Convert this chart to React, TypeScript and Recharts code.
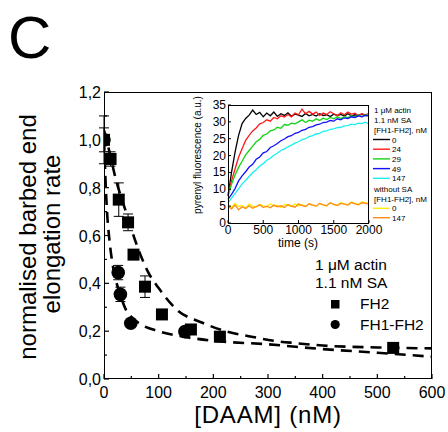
import React from 'react'
import { ComposedChart, LineChart, Line, Scatter, ErrorBar, XAxis, YAxis } from 'recharts'

const FONT = '"Liberation Sans", Arial, sans-serif'

// main panel: [DAAM] (nM) vs normalised rate
const daamTicks = [0, 50, 100, 150, 200, 250, 300, 350, 400, 450, 500, 550, 600]
const rateTicks = [0, 0.1, 0.2, 0.3, 0.4, 0.5, 0.6, 0.7, 0.8, 0.9, 1.0, 1.1, 1.2]

const fh2Conc = [0, 12, 27, 44, 54, 75, 106, 159, 212, 529]
const fh2Rate = [1.0, 0.92, 0.75, 0.655, 0.52, 0.386, 0.27, 0.207, 0.177, 0.13]
const fh2Err = [0.1, 0.03, 0.07, 0.035, 0.02, 0.045, 0.01, 0.01, 0.01, 0.01]

const fh1Conc = [0, 26, 30, 49, 148]
const fh1Rate = [1.0, 0.445, 0.354, 0.233, 0.198]
const fh1Err = [0.05, 0.03, 0.03, 0.01, 0.01]

// dashed fits
const fh2FitConc = [0, 10, 20, 40, 60, 80, 100, 133, 180, 225, 270, 310, 350, 400, 500, 600]
const fh2FitRate = [1.04, 0.95, 0.85, 0.7, 0.56, 0.45, 0.38, 0.29, 0.235, 0.198, 0.177, 0.16, 0.15, 0.14, 0.132, 0.128]
const fh1FitConc = [0, 5, 10, 15, 20, 30, 40, 50, 70, 100, 150, 200, 300, 400, 500, 600]
const fh1FitRate = [1.0, 0.72, 0.58, 0.49, 0.43, 0.35, 0.29, 0.26, 0.225, 0.2, 0.175, 0.16, 0.145, 0.125, 0.11, 0.093]

// inset: pyrenyl fluorescence traces, one value every 50 s
const timeS = [0, 50, 100, 150, 200, 250, 300, 350, 400, 450, 500, 550, 600, 650, 700, 750, 800, 850, 900, 950, 1000, 1050, 1100, 1150, 1200, 1250, 1300, 1350, 1400, 1450, 1500, 1550, 1600, 1650, 1700, 1750, 1800, 1850, 1900, 1950, 2000]
const sa0 = [8, 15, 21, 26, 29.5, 31, 32, 33.5, 32.2, 32.8, 31.5, 32.6, 31.8, 32.9, 31.6, 32.4, 31.9, 32.7, 31.7, 32.3, 32.0, 31.6, 32.5, 31.8, 32.2, 31.7, 32.4, 31.9, 32.1, 31.6, 32.3, 31.9, 32.2, 31.7, 32.4, 31.8, 32.1, 31.9, 32.3, 31.8, 32.0]
const sa24 = [8.5, 12.5, 16, 19.5, 22, 24.5, 26, 27.3, 28.2, 29.4, 29.8, 30.6, 30.2, 31.3, 30.9, 31.8, 31.4, 32.2, 31.5, 32.6, 32.1, 33.8, 32.4, 33.1, 32.3, 32.9, 31.9, 32.6, 32.2, 33.0, 32.4, 31.8, 32.7, 32.1, 32.9, 32.3, 32.6, 31.9, 32.4, 32.1, 32.5]
const sa29 = [8, 11.5, 14.2, 16.5, 18.3, 20.2, 21.5, 22.8, 24.1, 24.8, 26, 26.4, 27.3, 27.6, 28.4, 28.1, 29.2, 29.0, 29.6, 29.4, 30.0, 30.6, 29.8, 30.5, 30.2, 30.9, 30.4, 31.1, 30.7, 31.3, 30.9, 31.5, 31.0, 31.6, 31.2, 31.8, 31.4, 32.0, 31.6, 32.1, 31.8]
const sa49 = [7, 8.5, 10.2, 12.5, 14, 15.2, 16.6, 17.4, 18.9, 19.6, 20.8, 21.2, 22.4, 22.9, 23.6, 24.4, 24.9, 25.6, 25.9, 26.6, 26.9, 27.5, 27.8, 28.4, 28.6, 29.1, 29.3, 29.8, 29.9, 30.4, 30.2, 30.9, 30.6, 31.2, 31.0, 31.5, 31.3, 31.8, 31.5, 32.0, 31.7]
const sa147 = [6, 7.4, 8.8, 10.1, 11.6, 12.6, 13.8, 14.9, 15.8, 16.9, 17.6, 18.6, 19.2, 20.1, 20.7, 21.5, 22.0, 22.6, 23.1, 23.7, 24.1, 24.7, 25.0, 25.6, 25.9, 26.4, 26.6, 27.2, 27.3, 27.8, 27.9, 28.3, 28.4, 28.8, 28.9, 29.3, 29.2, 29.6, 29.5, 29.9, 29.4]
const noSa0 = [5.4, 4.6, 5.8, 4.9, 5.2, 4.4, 5.6, 5.0, 4.7, 5.5, 5.1, 4.8, 5.7, 5.0, 5.3, 4.6, 5.5, 5.2, 4.9, 5.6, 5.1, 5.4, 4.8, 5.7, 5.3, 5.0, 5.8, 5.4, 5.1, 6.0, 5.5, 5.2, 6.1, 5.7, 5.4, 6.2, 5.8, 5.5, 6.3, 5.9, 6.1]
const noSa147 = [5.0, 4.2, 5.3, 3.9, 4.8, 4.3, 5.1, 4.4, 4.9, 5.4, 4.6, 5.0, 4.5, 5.3, 4.8, 5.1, 4.6, 5.5, 5.0, 4.7, 5.6, 5.2, 4.9, 5.7, 5.3, 5.0, 5.8, 5.4, 5.1, 6.0, 5.5, 5.2, 5.8, 5.6, 5.3, 6.1, 5.7, 5.4, 6.0, 5.8, 5.6]
const timeTicks = [0, 500, 1000, 1500, 2000]
const fluoTicks = [0, 5, 10, 15, 20, 25, 30, 35]

const traces = [
  { key: 'c0', label: '0', color: '#000000', values: sa0 },
  { key: 'c24', label: '24', color: '#ff1a1a', values: sa24 },
  { key: 'c29', label: '29', color: '#14d414', values: sa29 },
  { key: 'c49', label: '49', color: '#1010ff', values: sa49 },
  { key: 'c147', label: '147', color: '#18f0f0', values: sa147 },
  { key: 'n0', label: '0', color: '#ffee00', values: noSa0 },
  { key: 'n147', label: '147', color: '#ff8c1a', values: noSa147 },
]

const fh2Points = fh2Conc.map((x, i) => ({ x, y: fh2Rate[i], err: fh2Err[i] }))
const fh1Points = fh1Conc.map((x, i) => ({ x, y: fh1Rate[i], err: fh1Err[i] }))
const fh2Fit = fh2FitConc.map((x, i) => ({ x, y: fh2FitRate[i] }))
const fh1Fit = fh1FitConc.map((x, i) => ({ x, y: fh1FitRate[i] }))
const insetRows = timeS.map((t, i) => {
  const row: Record<string, number> = { t }
  traces.forEach((tr) => { row[tr.key] = tr.values[i] })
  return row
})

const MainXTick = (props: any) => {
  const { x, y, payload } = props
  const major = payload.value % 100 === 0
  return (
    <g>
      <line x1={x} y1={y} x2={x} y2={y - (major ? 5 : 3)} stroke="#000" strokeWidth={1.2} />
      {major && (
        <text x={x} y={y + 18.5} textAnchor="middle" fontSize={16} fontFamily={FONT} fill="#000">
          {payload.value}
        </text>
      )}
    </g>
  )
}

const MainYTick = (props: any) => {
  const { x, y, payload } = props
  const major = Math.round(payload.value * 10) % 2 === 0
  return (
    <g>
      <line x1={x} y1={y} x2={x + (major ? 5 : 3)} y2={y} stroke="#000" strokeWidth={1.2} />
      {major && (
        <text x={x - 3} y={y + 6} textAnchor="end" fontSize={16} fontFamily={FONT} fill="#000">
          {payload.value.toFixed(1).replace('.', ',')}
        </text>
      )}
    </g>
  )
}

const InsetXTick = (props: any) => {
  const { x, y, payload } = props
  return (
    <g>
      <line x1={x} y1={y} x2={x} y2={y - 3} stroke="#000" strokeWidth={1} />
      <text x={x} y={y + 11} textAnchor="middle" fontSize={12} fontFamily={FONT} fill="#000">
        {String(payload.value)}
      </text>
    </g>
  )
}

const InsetYTick = (props: any) => {
  const { x, y, payload } = props
  return (
    <g>
      <line x1={x} y1={y} x2={x + 3} y2={y} stroke="#000" strokeWidth={1} />
      <text x={x - 2} y={y + 4} textAnchor="end" fontSize={12} fontFamily={FONT} fill="#000">
        {String(payload.value)}
      </text>
    </g>
  )
}

const SquareDot = (props: any) => (
  <rect x={props.cx - 6} y={props.cy - 6} width={12} height={12} fill="#000" />
)
const CircleDot = (props: any) => <circle cx={props.cx} cy={props.cy} r={6.8} fill="#000" />

export default function App() {
  return (
    <div style={{ position: 'absolute', left: 0, top: 0, width: 448, height: 432, background: '#fff', fontFamily: FONT }}>
      <ComposedChart width={448} height={432} margin={{ top: 92, right: 16, bottom: 0, left: 0 }}>
        <XAxis
          type="number"
          dataKey="x"
          domain={[0, 600]}
          ticks={daamTicks}
          interval={0}
          tick={<MainXTick />}
          tickLine={false}
          tickSize={0}
          tickMargin={0}
          axisLine={false}
          height={53}
          allowDataOverflow
        />
        <YAxis
          type="number"
          dataKey="y"
          domain={[0, 1.2]}
          ticks={rateTicks}
          interval={0}
          tick={<MainYTick />}
          tickLine={false}
          tickSize={0}
          tickMargin={0}
          axisLine={false}
          width={104}
          allowDataOverflow
        />
        <Line data={fh2Fit} dataKey="y" type="monotone" stroke="#000" strokeWidth={2.6} strokeDasharray="11 7" dot={false} isAnimationActive={false} />
        <Line data={fh1Fit} dataKey="y" type="monotone" stroke="#000" strokeWidth={2.6} strokeDasharray="11 7" dot={false} isAnimationActive={false} />
        <Scatter data={fh2Points} dataKey="y" shape={SquareDot} isAnimationActive={false}>
          <ErrorBar dataKey="err" direction="y" width={5} stroke="#000" strokeWidth={1} />
        </Scatter>
        <Scatter data={fh1Points} dataKey="y" shape={CircleDot} isAnimationActive={false}>
          <ErrorBar dataKey="err" direction="y" width={5} stroke="#000" strokeWidth={1} />
        </Scatter>
      </ComposedChart>
      <div style={{ position: 'absolute', left: 103.5, top: 91.5, width: 328.5, height: 287.5, border: '1.3px solid #000', boxSizing: 'border-box', pointerEvents: 'none' }} />

      <div style={{ position: 'absolute', left: 180, top: 95 }}>
        <LineChart width={215} height={160} data={insetRows} margin={{ top: 10, right: 26, bottom: 0, left: 0 }}>
          <XAxis
            type="number"
            dataKey="t"
            domain={[0, 2000]}
            ticks={timeTicks}
            interval={0}
            tick={<InsetXTick />}
            tickLine={false}
            tickSize={0}
            tickMargin={0}
            axisLine={false}
            height={32}
          />
          <YAxis
            type="number"
            domain={[0, 35]}
            ticks={fluoTicks}
            interval={0}
            tick={<InsetYTick />}
            tickLine={false}
            tickSize={0}
            tickMargin={0}
            axisLine={false}
            width={48}
          />
          {traces.map((tr) => (
            <Line key={tr.key} dataKey={tr.key} type="linear" stroke={tr.color} strokeWidth={1.3} dot={false} isAnimationActive={false} />
          ))}
        </LineChart>
      </div>
      <div style={{ position: 'absolute', left: 228, top: 105, width: 141, height: 118.5, border: '1px solid #000', boxSizing: 'border-box', pointerEvents: 'none' }} />

      <svg width={448} height={432} style={{ position: 'absolute', left: 0, top: 0, pointerEvents: 'none' }} fontFamily={FONT}>
        <text x={8} y={58} fontSize={60} fill="#000">C</text>
        <text transform="translate(36,237) rotate(-90)" textAnchor="middle" fontSize={24} fill="#000">normalised barbed end</text>
        <text transform="translate(60,234) rotate(-90)" textAnchor="middle" fontSize={24} fill="#000">elongation rate</text>
        <text x={268} y={423} textAnchor="middle" fontSize={24} letterSpacing={0.8} fill="#000">[DAAM] (nM)</text>

        <text x={315} y={270} fontSize={15.5} fill="#000">1 μM actin</text>
        <text x={315} y={288} fontSize={15.5} fill="#000">1.1 nM SA</text>
        <rect x={331} y={300} width={8.5} height={8.5} fill="#000" />
        <text x={360} y={309} fontSize={15.5} fill="#000">FH2</text>
        <circle cx={335.2} cy={324.5} r={4.6} fill="#000" />
        <text x={360} y={330} fontSize={15.5} fill="#000">FH1-FH2</text>

        <text transform="translate(201,155) rotate(-90)" textAnchor="middle" fontSize={10} fill="#000">pyrenyl fluorescence (a.u.)</text>
        <text x={298} y={247} textAnchor="middle" fontSize={12} fill="#000">time (s)</text>

        <text x={374} y={113} fontSize={8} fill="#000">1 μM actin</text>
        <text x={374} y={123} fontSize={8} fill="#000">1.1 nM SA</text>
        <text x={374} y={133} fontSize={8} fill="#000">[FH1-FH2], nM</text>
        {traces.slice(0, 5).map((tr, i) => (
          <g key={tr.key}>
            <line x1={373} x2={390} y1={139.5 + i * 9.7} y2={139.5 + i * 9.7} stroke={tr.color} strokeWidth={1.4} />
            <text x={392} y={142.5 + i * 9.7} fontSize={8} fill="#000">{tr.label}</text>
          </g>
        ))}
        <text x={374} y={192} fontSize={8} fill="#000">without SA</text>
        <text x={374} y={201.5} fontSize={8} fill="#000">[FH1-FH2], nM</text>
        {traces.slice(5).map((tr, i) => (
          <g key={tr.key}>
            <line x1={373} x2={390} y1={208.3 + i * 9.4} y2={208.3 + i * 9.4} stroke={tr.color} strokeWidth={1.4} />
            <text x={392} y={211.3 + i * 9.4} fontSize={8} fill="#000">{tr.label}</text>
          </g>
        ))}
      </svg>
    </div>
  )
}
